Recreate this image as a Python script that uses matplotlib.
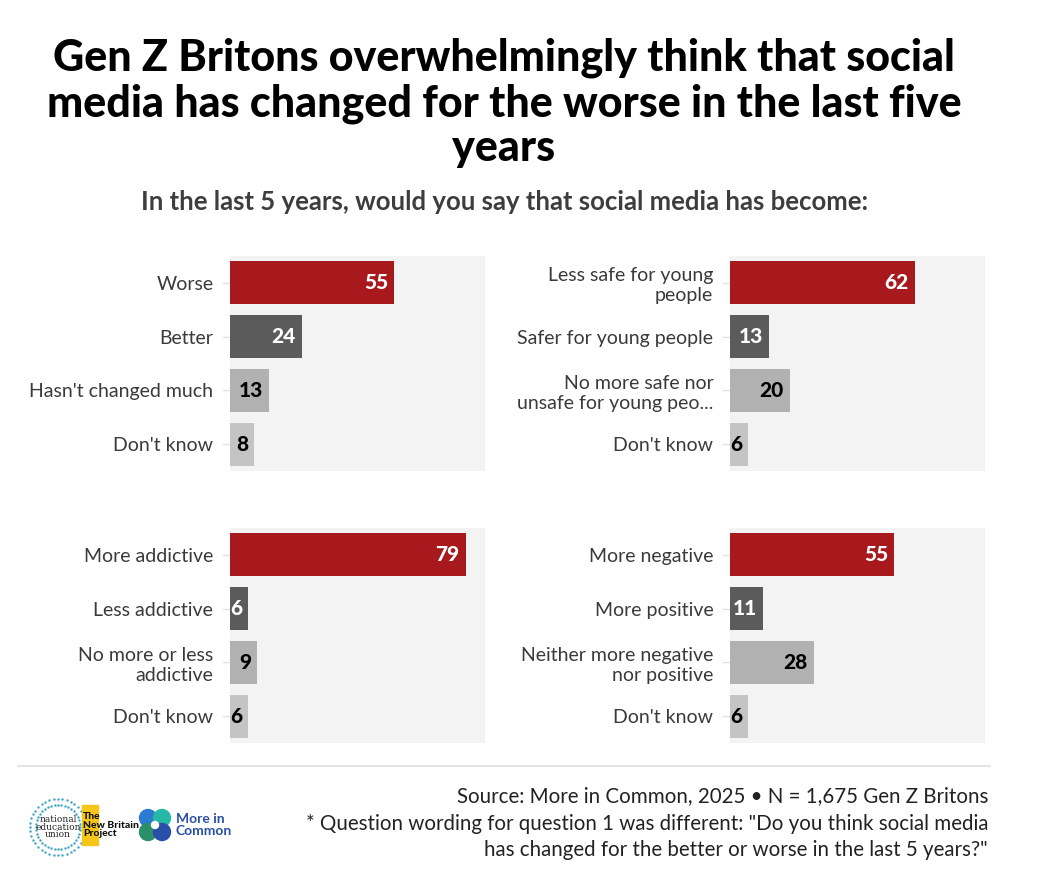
import numpy as np
import matplotlib
matplotlib.use("Agg")
import matplotlib.pyplot as plt
from matplotlib.patches import Rectangle, Circle

plt.rcParams['font.family'] = ['Lato', 'DejaVu Sans']

# === DATA ===
q1_labels = ["Worse", "Better", "Hasn't changed much", "Don't know"]
q1_values = [55, 24, 13, 8]

q2_labels = ["Less safe for young\npeople", "Safer for young people",
             "No more safe nor\nunsafe for young peo...", "Don't know"]
q2_values = [62, 13, 20, 6]

q3_labels = ["More addictive", "Less addictive", "No more or less\naddictive", "Don't know"]
q3_values = [79, 6, 9, 6]

q4_labels = ["More negative", "More positive", "Neither more negative\nnor positive", "Don't know"]
q4_values = [55, 11, 28, 6]

TITLE = "Gen Z Britons overwhelmingly think that social\nmedia has changed for the worse in the last five\nyears"
SUBTITLE = "In the last 5 years, would you say that social media has become:"
SOURCE = ["Source: More in Common, 2025 \u2022 N = 1,675 Gen Z Britons",
          "* Question wording for question 1 was different: \"Do you think social media",
          "has changed for the better or worse in the last 5 years?\""]

# === STYLE ===
BAR_COLORS = ["#a8191e", "#5c5b5c", "#b1b1b1", "#c4c4c4"]
TEXT_COLORS = ["white", "white", "black", "black"]
PANEL_BG = "#f3f3f3"
W, H = 1059, 886


def draw_panel(ax, labels, values):
    y = np.arange(len(values))
    ax.barh(y, values, height=0.8, color=BAR_COLORS, zorder=2)
    ax.set_facecolor(PANEL_BG)
    ax.set_xlim(0, 85.5)
    ax.set_ylim(3.5, -0.5)
    ax.set_yticks(y)
    ax.set_yticklabels(labels, fontsize=14, color="#3a3a3a", linespacing=1.2)
    ax.tick_params(axis="y", length=6, width=1, color="#e2e2e2", pad=6)
    ax.set_xticks([])
    for s in ax.spines.values():
        s.set_visible(False)
    for yi, v, tc in zip(y, values, TEXT_COLORS):
        ax.text(v - 2, yi, str(v), ha="right", va="center",
                fontsize=15, fontweight="black", color=tc, zorder=3)


fig = plt.figure(figsize=(W / 100, H / 100), dpi=100)
fig.patch.set_facecolor("white")

# panel boxes in pixels: (left, top)
boxes = [(230, 256), (730, 256), (230, 528), (730, 528)]
data = [(q1_labels, q1_values), (q2_labels, q2_values),
        (q3_labels, q3_values), (q4_labels, q4_values)]
for (lx, ty), (lab, val) in zip(boxes, data):
    ax = fig.add_axes([lx / W, 1 - (ty + 215) / H, 255 / W, 215 / H])
    draw_panel(ax, lab, val)

# overlay in pixel coordinates for titles / footer
ov = fig.add_axes([0, 0, 1, 1], zorder=5)
ov.set_xlim(0, W)
ov.set_ylim(H, 0)
ov.axis("off")
ov.patch.set_alpha(0)

ov.text(504, 103, TITLE, ha="center", va="center", fontsize=31,
        fontweight="black", color="black", linespacing=1.15)
ov.text(505, 202, SUBTITLE, ha="center", va="center", fontsize=18.5,
        fontweight="bold", color="#3d3d3d")

ov.plot([18, 990], [766, 766], color="#e3e3e3", lw=1.5)

for yy, line in zip([796, 824, 850], SOURCE):
    ov.text(988, yy, line, ha="right", va="center", fontsize=14.8, color="#222222")

# logos (rough text versions)
ang = np.linspace(0, 2 * np.pi, 40, endpoint=False)
for r in (22, 28):
    ov.scatter(58 + r * np.cos(ang), 827 + r * np.sin(ang), s=3, color="#3aa6c4", lw=0)
ov.text(58, 827, "national\neducation\nunion", ha="center", va="center",
        fontsize=6.5, linespacing=0.85, family="DejaVu Serif", color="#222222")
ov.add_patch(Rectangle((82, 805), 16, 40, color="#f5c518"))
ov.text(83, 825, "The\nNew Britain\nProject", ha="left", va="center",
        fontsize=7.5, fontweight="black", linespacing=0.95, color="#111111")
for dx, dy, c in [(-7, -7, "#2b7bd0"), (7, -7, "#26b8a6"), (-7, 7, "#2b8f6a"), (7, 7, "#2a4fa8")]:
    ov.add_patch(Circle((155 + dx, 825 + dy), 8.5, color=c))
ov.add_patch(Circle((155, 825), 3.5, color="white"))
ov.text(176, 825, "More in\nCommon", ha="left", va="center", fontsize=10,
        fontweight="bold", color="#2a4fa8", linespacing=1.0)

fig.savefig("out.png", dpi=100, facecolor="white")
